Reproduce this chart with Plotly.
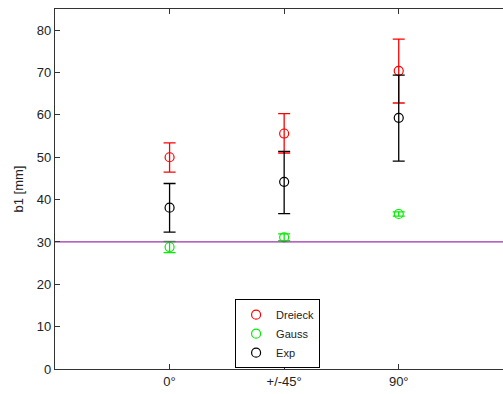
import plotly.graph_objects as go

categories = ["0°", "+/-45°", "90°"]
xpos = [1, 2, 3]

dreieck = [50.0, 55.6, 70.4]
dreieck_err_plus = [3.4, 4.7, 7.5]
dreieck_err_minus = [3.5, 4.6, 7.6]

gauss = [28.8, 31.1, 36.6]
gauss_err = [1.3, 0.8, 0.5]

exp_vals = [38.1, 44.2, 59.3]
exp_err_plus = [5.7, 7.2, 10.1]
exp_err_minus = [5.8, 7.5, 10.2]

ref_line = 30
x_range = [0, 3.91]

fig = go.Figure()

def add_series(name, y, ep, em, color):
    fig.add_trace(go.Scatter(
        x=xpos, y=y, name=name, mode="markers",
        marker=dict(symbol="circle-open", size=9, color=color, line=dict(width=1.2, color=color)),
        error_y=dict(type="data", array=ep, arrayminus=em, color=color, thickness=1.3, width=6, visible=True),
    ))

add_series("Dreieck", dreieck, dreieck_err_plus, dreieck_err_minus, "#ff0000")
add_series("Gauss", gauss, gauss_err, gauss_err, "#00ee00")
add_series("Exp", exp_vals, exp_err_plus, exp_err_minus, "#000000")

fig.add_trace(go.Scatter(x=x_range, y=[ref_line, ref_line], mode="lines",
                         line=dict(color="#9933aa", width=1.3), showlegend=False, hoverinfo="skip"))

fig.update_layout(
    width=503, height=394,
    margin=dict(l=55, r=0, t=9, b=25),
    paper_bgcolor="white", plot_bgcolor="white",
    font=dict(family="Liberation Sans, Arial, sans-serif", size=13, color="#222222"),
    showlegend=True,
    legend=dict(x=0.402, y=0.194, xanchor="left", yanchor="top",
                bordercolor="#000000", borderwidth=1, bgcolor="white",
                font=dict(size=11), tracegroupgap=0, itemwidth=30),
)
fig.update_xaxes(range=x_range, tickvals=xpos, ticktext=categories,
                 showline=True, linecolor="#333333", linewidth=1.2, mirror="ticks",
                 ticks="inside", ticklen=5, tickcolor="#333333",
                 showgrid=False, zeroline=False)
fig.update_yaxes(range=[0, 85], dtick=10, tick0=0,
                 showline=True, linecolor="#333333", linewidth=1.2,
                 ticks="inside", ticklen=5, tickcolor="#333333",
                 showgrid=False, zeroline=False,
                 title=dict(text="b1 [mm]", standoff=10, font=dict(size=13)))

fig.write_html("out.html")
